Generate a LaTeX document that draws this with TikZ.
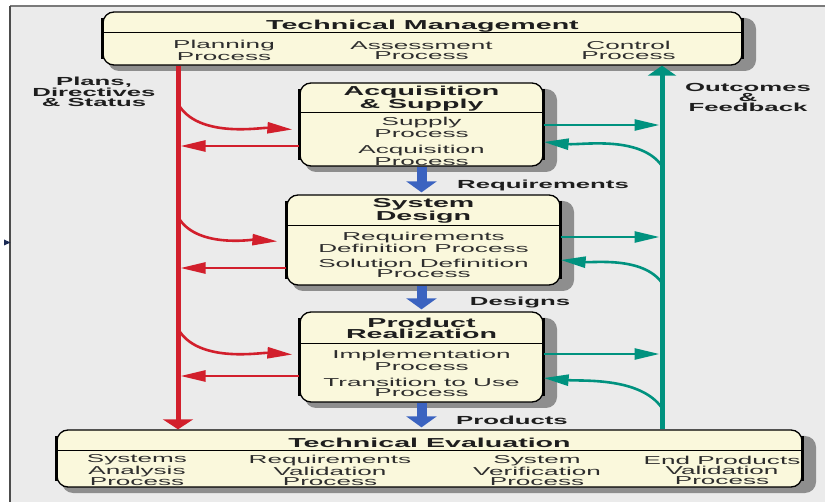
\documentclass[tikz,border=0pt]{standalone}
\usepackage{fontspec}
\setmainfont{Liberation Sans}[FakeStretch=2.2]
\newfontfamily\subfont{Liberation Sans}[FakeStretch=2.27]
\usetikzlibrary{arrows.meta,calc}
\definecolor{bgc}{HTML}{EBEBEB}
\definecolor{cream}{HTML}{FAF8DC}
\definecolor{shadowc}{HTML}{8E8E8E}
\definecolor{redc}{HTML}{D21F2C}
\definecolor{tealc}{HTML}{00927F}
\definecolor{bluec}{HTML}{3B63C0}
\definecolor{textc}{HTML}{1E1E1E}
\definecolor{subc}{HTML}{2E2E2E}
\definecolor{framec}{HTML}{7A7A7A}
\definecolor{markc}{HTML}{1A2A55}
\tikzset{
  boxnode/.style={draw=black, line width=1.3pt, fill=cream, rounded corners=11pt, inner sep=0pt},
  shadowbox/.style={fill=shadowc, rounded corners=11pt, inner sep=0pt},
  ttl/.style={font=\fontsize{13}{11}\selectfont\bfseries, text=textc, align=center, inner sep=0pt},
  sub/.style={font=\subfont\fontsize{11.5}{9.8}\selectfont, text=subc, align=center, inner sep=0pt},
  lbl/.style={font=\fontsize{11.7}{10.3}\selectfont\bfseries, text=textc, align=center, inner sep=0pt},
  redthick/.style={draw=redc, line width=5pt},
  tealthick/.style={draw=tealc, line width=5pt},
  redthin/.style={draw=redc, line width=2.6pt, -{Triangle[length=25pt,width=11pt]}},
  tealthin/.style={draw=tealc, line width=2.6pt, -{Triangle[length=25pt,width=11pt]}},
  bluearrow/.style={draw=bluec, line width=10pt, -{Triangle[length=11pt,width=30pt]}, shorten >=2pt},
  sepline/.style={draw=black, line width=1.3pt},
}
\newcommand{\shadowedbox}[5]{%
  \node[shadowbox, minimum width=#4pt+9pt, minimum height=#5pt] at (#2+9.5, #3+6) {};
  \node[boxnode, minimum width=#4pt, minimum height=#5pt] (#1) at (#2,#3) {};
  \draw[line width=2.8pt] ([yshift=-7pt]#1.north west) -- ([yshift=7pt]#1.south west);
  \draw[line width=2.4pt] ([yshift=-7pt]#1.north east) -- ([yshift=7pt]#1.south east);
}
\begin{document}
\begin{tikzpicture}[x=1pt,y=-1pt]
\useasboundingbox (0,0) rectangle (825,502);
\fill[white] (0,0) rectangle (825,502);
\fill[bgc] (10,6) rectangle (825,502);
\draw[framec, line width=1.5pt] (10,6) -- (825,6);
\draw[black!70, line width=2pt] (10,6) -- (10,502);
\fill[markc] (4,239.5) -- (10.5,242.5) -- (4,245.5) -- cycle;

% boxes
\shadowedbox{tm}{422.5}{38.5}{639}{53}
\shadowedbox{acq}{421.5}{124.5}{243}{83}
\shadowedbox{sd}{423.5}{240}{273}{90}
\shadowedbox{pr}{421.5}{357}{243}{90}
\shadowedbox{te}{429.5}{458.5}{745}{57}

% separators
\draw[sepline] ([yshift=-21pt]tm.north west) -- ([yshift=-21pt]tm.north east);
\draw[sepline] ([yshift=-30pt]acq.north west) -- ([yshift=-30pt]acq.north east);
\draw[sepline] ([yshift=-31pt]sd.north west) -- ([yshift=-31pt]sd.north east);
\draw[sepline] ([yshift=-32pt]pr.north west) -- ([yshift=-32pt]pr.north east);
\draw[sepline] ([yshift=-21pt]te.north west) -- ([yshift=-21pt]te.north east);

% texts in boxes
\node[ttl] (tmt) at (422.5,26.5) {Technical Management};
\node[sub] (tm1) at (224,50.5) {Planning\\Process};
\node[sub] (tm2) at (421.5,50.5) {Assessment\\Process};
\node[sub] (tm3) at (628.5,50.5) {Control\\Process};

\node[ttl] (acqt) at (421.5,99) {Acquisition\\\& Supply};
\node[sub] (acq1) at (421.5,127.5) {Supply\\Process};
\node[sub] (acq2) at (421.5,155.5) {Acquisition\\Process};

\node[ttl] (sdt) at (423.5,211) {System\\Design};
\node[sub] (sd1) at (423.5,242.5) {Requirements\\Definition Process};
\node[sub] (sd2) at (423.5,268.5) {Solution Definition\\Process};

\node[ttl] (prt) at (421.5,328) {Product\\Realization};
\node[sub] (pr1) at (421.5,360.5) {Implementation\\Process};
\node[sub] (pr2) at (421.5,387.5) {Transition to Use\\Process};

\node[ttl] (tet) at (429.5,442.5) {Technical Evaluation};
\node[sub] (te1) at (137,470.5) {Systems\\Analysis\\Process};
\node[sub] (te2) at (330,470.5) {Requirements\\Validation\\Process};
\node[sub] (te3) at (537,470.5) {System\\Verification\\Process};
\node[sub] (te4) at (722,470.5) {End Products\\Validation\\Process};

% labels
\node[lbl] (plans) at (94,92) {Plans,\\Directives\\\& Status};
\node[lbl] (outc) at (748,97.5) {Outcomes\\\&\\Feedback};
\node[lbl] (reqs) at (543,185.5) {Requirements};
\node[lbl] (desg) at (520,302.5) {Designs};
\node[lbl] (prods) at (512,420.5) {Products};

% main vertical lines
\coordinate (rx) at (178,0);
\coordinate (rxe) at (180.5,0);
\coordinate (tx) at (662,0);
\coordinate (txe) at (659.5,0);
\draw[redthick, -{Triangle[length=10pt,width=30pt]}] (tm.south -| rx) -- (te.north -| rx);
\draw[tealthick, -{Triangle[length=10pt,width=28pt]}] (te.north -| tx) -- (tm.south -| tx);

% red connectors
\coordinate (ra1) at (180,107);
\coordinate (ra2) at (180,220);
\coordinate (ra3) at (180,332);
\draw[redthin, shorten >=7pt] (ra1) to[out=-55,in=176,looseness=0.8] ([yshift=-5.5pt]acq.west);
\draw[redthin, shorten >=9pt] (ra2) to[out=-55,in=176,looseness=0.8] ([yshift=-2pt]sd.west);
\draw[redthin, shorten >=7pt] (ra3) to[out=-55,in=176,looseness=0.8] ([yshift=2pt]pr.west);
\draw[redthin] ([yshift=-21.5pt]acq.west) -- ([yshift=-21.5pt]acq.west -| rxe);
\draw[redthin] ([yshift=-28pt]sd.west) -- ([yshift=-28pt]sd.west -| rxe);
\draw[redthin] ([yshift=-19pt]pr.west) -- ([yshift=-19pt]pr.west -| rxe);

% teal connectors
\coordinate (ta1) at (662,166);
\coordinate (ta2) at (662,283);
\coordinate (ta3) at (662,408);
\draw[tealthin] ([yshift=-0.5pt]acq.east) -- ([yshift=-0.5pt]acq.east -| txe);
\draw[tealthin] ([yshift=3pt]sd.east) -- ([yshift=3pt]sd.east -| txe);
\draw[tealthin] ([yshift=3pt]pr.east) -- ([yshift=3pt]pr.east -| txe);
\draw[tealthin] (ta1) to[out=125,in=-5,looseness=0.8] ([yshift=-17.5pt]acq.east);
\draw[tealthin] (ta2) to[out=125,in=-5,looseness=0.8] ([yshift=-20pt]sd.east);
\draw[tealthin] (ta3) to[out=125,in=-5,looseness=0.8] ([yshift=-21pt]pr.east);

% blue arrows
\draw[bluearrow] (acq.south) -- (acq.south |- sd.north);
\draw[bluearrow] (acq.south |- sd.south) -- (acq.south |- pr.north);
\draw[bluearrow] (pr.south) -- (pr.south |- te.north);
\end{tikzpicture}
\end{document}
